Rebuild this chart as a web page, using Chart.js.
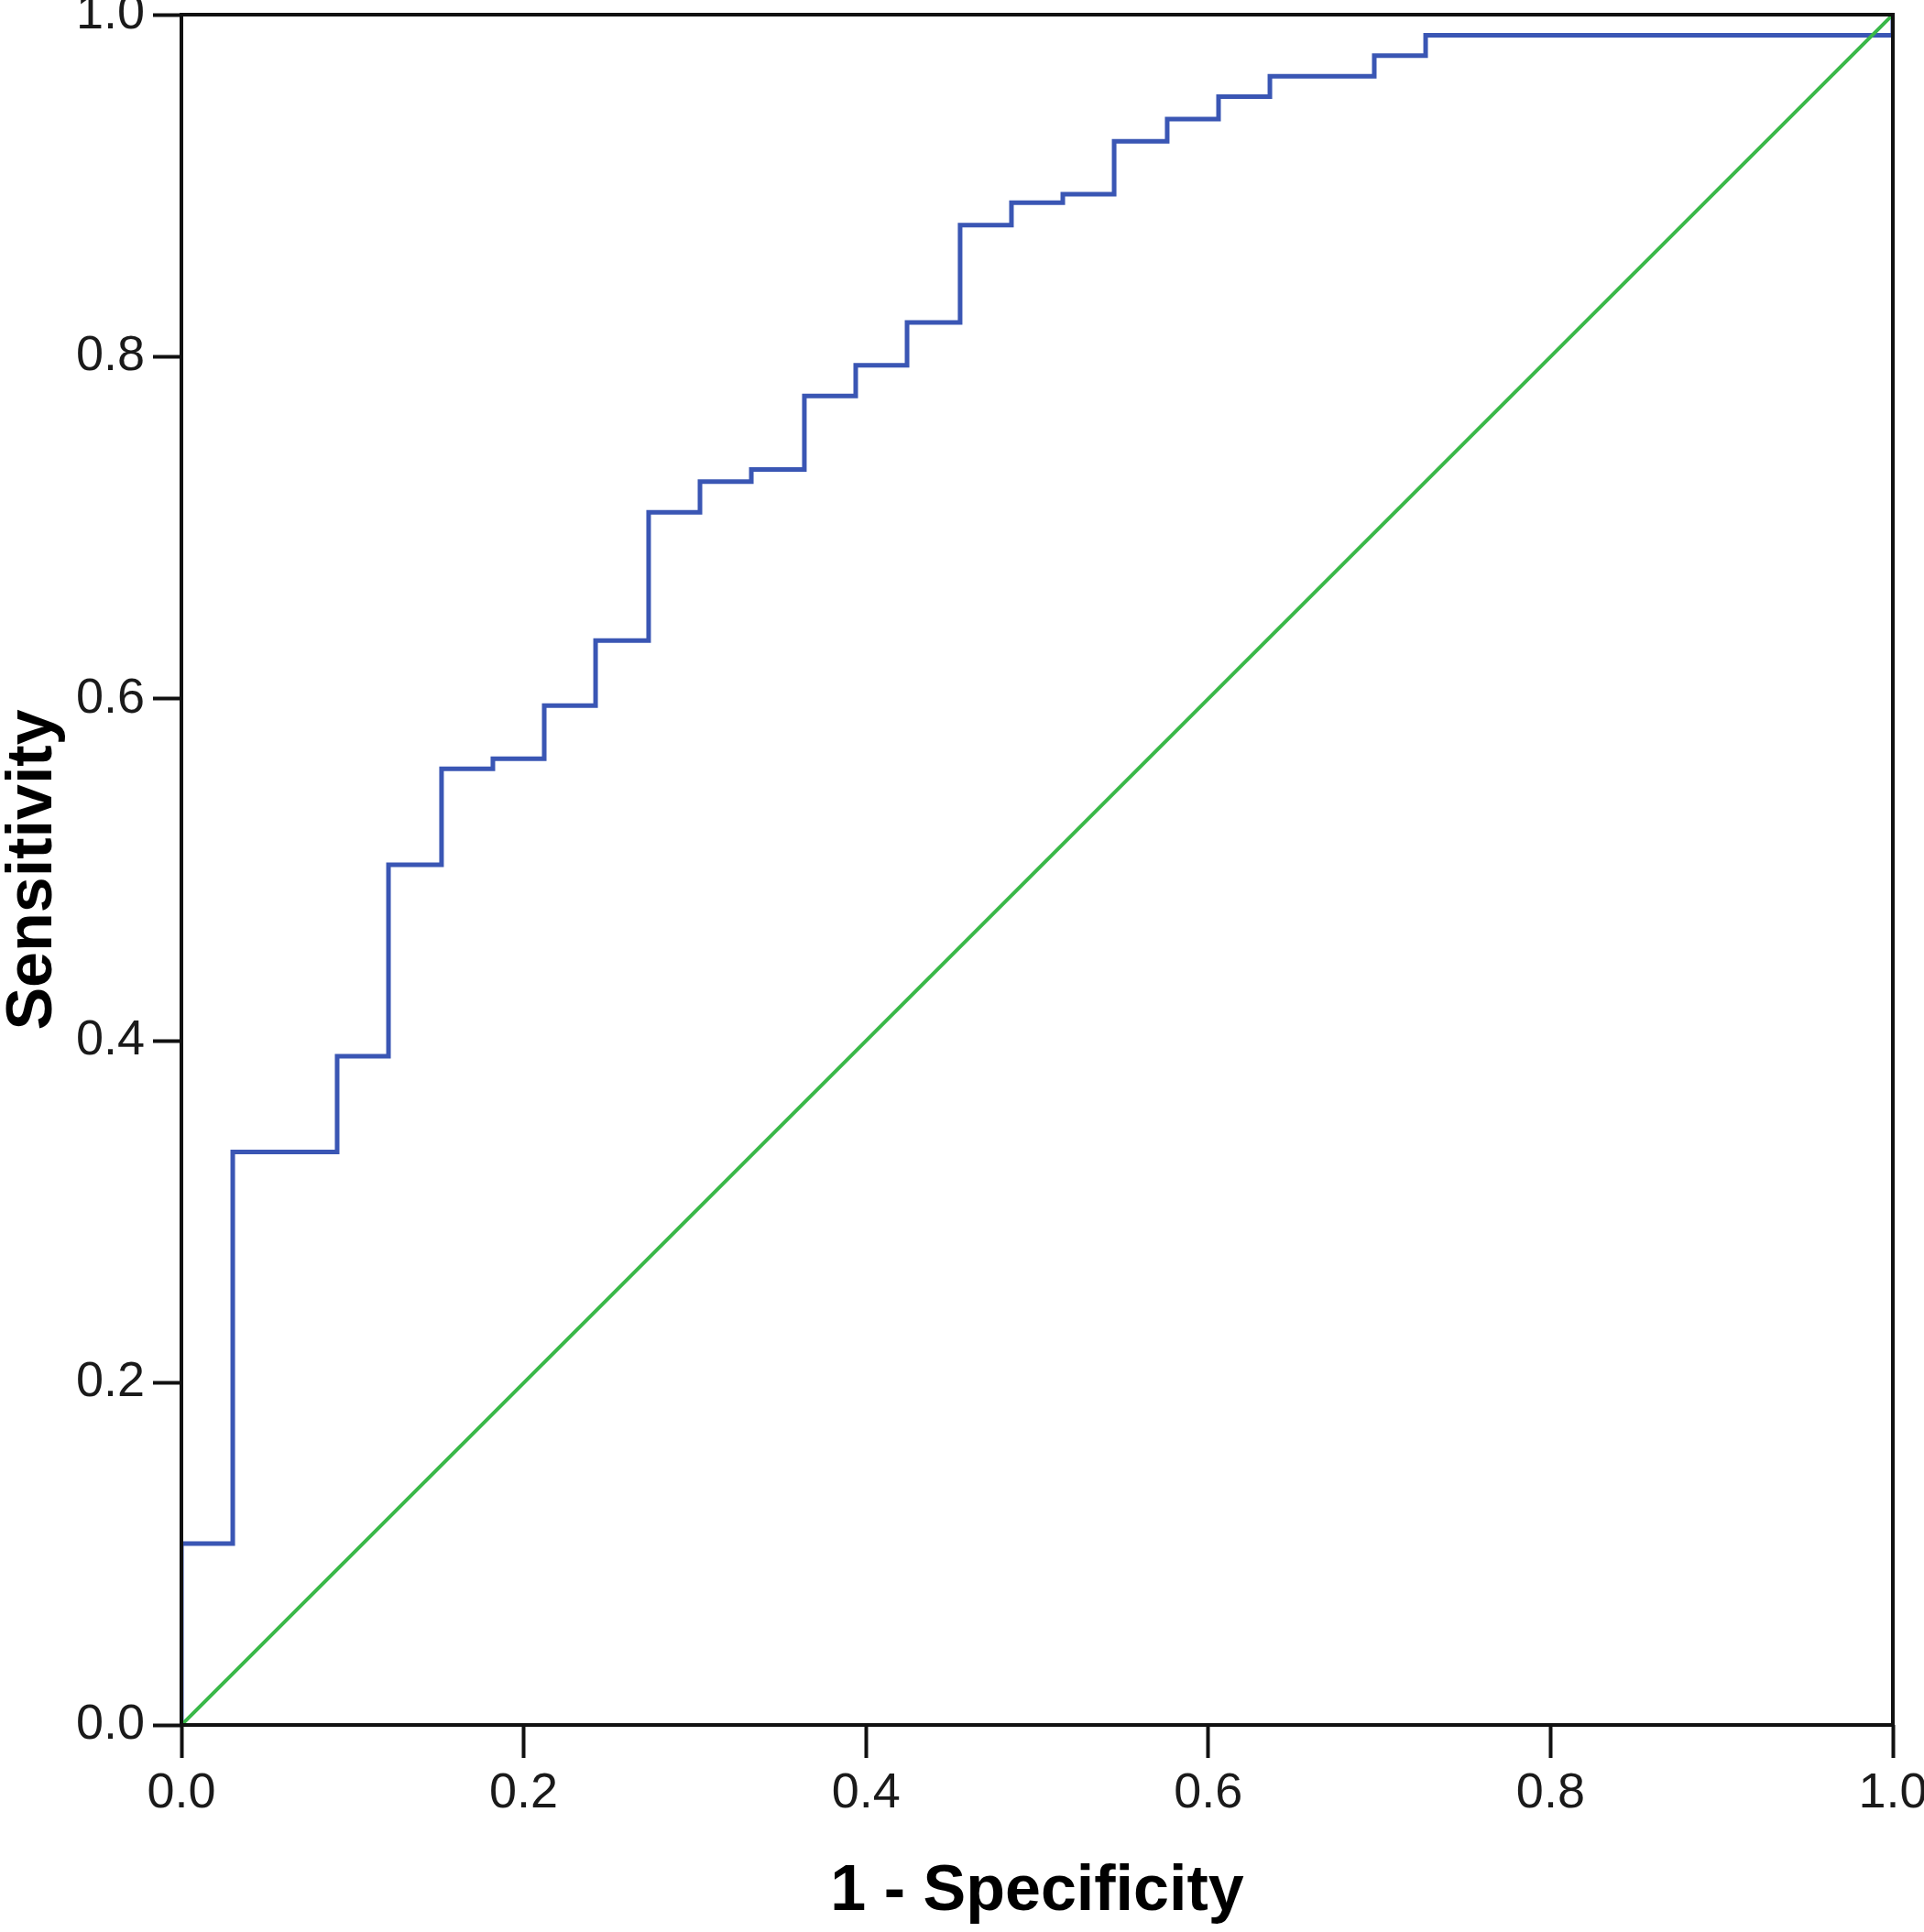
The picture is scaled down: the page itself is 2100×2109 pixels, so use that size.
<!DOCTYPE html>
<html>
<head>
<meta charset="utf-8">
<script src="https://cdn.jsdelivr.net/npm/chart.js@4.4.1/dist/chart.umd.min.js"></script>
<style>
  body { margin: 0; background: #fff; }
</style>
</head>
<body>
<canvas id="rocChart" width="2100" height="2109"></canvas>
<script>
// ROC curve points (1 - specificity, sensitivity), stepped
const falsePositiveRate = [0, 0, 0.030, 0.091, 0.121, 0.152, 0.182, 0.212, 0.242, 0.273, 0.303,
    0.333, 0.364, 0.394, 0.424, 0.455, 0.485, 0.515, 0.545, 0.576, 0.606, 0.636, 0.697, 0.727, 1.0];
const sensitivity = [0, 0.106, 0.335, 0.391, 0.503, 0.559, 0.565, 0.596, 0.634, 0.709, 0.727,
    0.734, 0.777, 0.795, 0.820, 0.877, 0.890, 0.895, 0.926, 0.939, 0.952, 0.964, 0.976, 0.988, 1.0];
// reference line
const refX = [0, 1];
const refY = [0, 1];
const tickValues = [0, 0.2, 0.4, 0.6, 0.8, 1.0];

const rocPoints = falsePositiveRate.map((x, i) => ({ x: x, y: sensitivity[i] }));
const refPoints = refX.map((x, i) => ({ x: x, y: refY[i] }));

// frame round the plot area
const framePlugin = {
    id: 'frame',
    afterDatasetsDraw(chart) {
        const { ctx, chartArea } = chart;
        ctx.save();
        ctx.strokeStyle = '#111';
        ctx.lineWidth = 4;
        ctx.strokeRect(chartArea.left, chartArea.top, chartArea.right - chartArea.left, chartArea.bottom - chartArea.top);
        ctx.restore();
    }
};

const tickFont = { family: 'Liberation Sans, Arial, sans-serif', size: 54, lineHeight: 1 };
const titleFont = { family: 'Liberation Sans, Arial, sans-serif', size: 70, weight: 'bold', lineHeight: 1 };

const config = {
    type: 'line',
    data: {
        datasets: [
            {
                label: 'Reference',
                data: refPoints,
                borderColor: 'rgb(57, 184, 72)',
                borderWidth: 4,
                pointRadius: 0,
                fill: false
            },
            {
                label: 'ROC',
                data: rocPoints,
                borderColor: 'rgb(58, 86, 180)',
                borderWidth: 5,
                pointRadius: 0,
                stepped: 'before',
                fill: false
            }
        ]
    },
    options: {
        responsive: false,
        animation: false,
        devicePixelRatio: 1,
        layout: {
            padding: { top: 16, right: 34, bottom: 0, left: 0 }
        },
        plugins: {
            legend: { display: false },
            tooltip: { enabled: false }
        },
        scales: {
            x: {
                type: 'linear',
                min: 0,
                max: 1,
                afterBuildTicks: (scale) => { scale.ticks = tickValues.map(v => ({ value: v })); },
                afterFit: (scale) => {
                    scale.height = 226;
                    scale.paddingLeft = 0;
                    scale.paddingRight = 0;
                },
                grid: {
                    drawOnChartArea: false,
                    drawTicks: true,
                    tickLength: 36,
                    tickWidth: 4,
                    tickColor: '#111'
                },
                border: { display: false },
                ticks: {
                    color: '#1a1a1a',
                    font: tickFont,
                    padding: 12,
                    maxRotation: 0,
                    callback: (v) => v.toFixed(1)
                },
                title: {
                    display: true,
                    text: '1 - Specificity',
                    color: '#000',
                    font: titleFont,
                    padding: { top: 0, bottom: 8 }
                }
            },
            y: {
                type: 'linear',
                min: 0,
                max: 1,
                afterBuildTicks: (scale) => { scale.ticks = tickValues.map(v => ({ value: v })); },
                afterFit: (scale) => {
                    scale.width = 198;
                    scale.paddingTop = 0;
                    scale.paddingBottom = 0;
                },
                grid: {
                    drawOnChartArea: false,
                    drawTicks: true,
                    tickLength: 31,
                    tickWidth: 4,
                    tickColor: '#111'
                },
                border: { display: false },
                ticks: {
                    color: '#1a1a1a',
                    font: tickFont,
                    padding: 9,
                    callback: (v) => v.toFixed(1)
                },
                title: {
                    display: true,
                    text: 'Sensitivity',
                    color: '#000',
                    font: titleFont,
                    padding: { top: 2, bottom: 0 }
                }
            }
        }
    },
    plugins: [framePlugin]
};

const ctx = document.getElementById('rocChart').getContext('2d');
new Chart(ctx, config);
</script>
</body>
</html>
